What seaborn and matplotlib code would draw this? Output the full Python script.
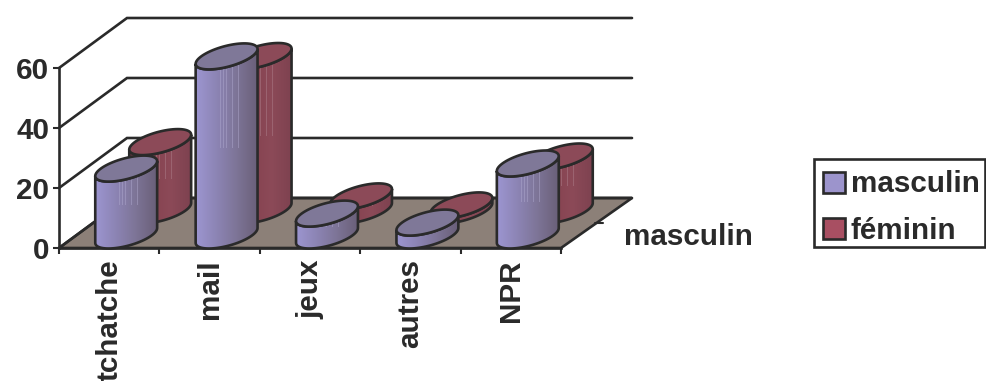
import numpy as np
import pandas as pd
import seaborn as sns
import matplotlib.pyplot as plt
from matplotlib.colors import LinearSegmentedColormap, to_rgba
from matplotlib.patches import Patch, PathPatch, Polygon, Rectangle
from matplotlib.path import Path

categories = ['tchatche', 'mail', 'jeux', 'autres', 'NPR']
masculin = [22.3, 59.7, 7.3, 4.3, 24]
feminin = [22.8, 51.5, 4.7, 1.7, 18]
series_names = ['masculin', 'féminin']
y_ticks = [0, 20, 40, 60]

sns.set_style('white')
plt.rcParams['font.family'] = ['Liberation Sans', 'DejaVu Sans']
plt.rcParams['font.weight'] = 'bold'
plt.rcParams['font.size'] = 21.3

INK = '#2a2a2a'
LW = 1.9
# how far the full depth of the floor shifts things, in category / value units
DX = 68 / 100.4
DY = 50 / 3
R_X = 0.253   # cylinder radius along the categories
R_D = 0.26    # cylinder radius along the depth
BACK_EXTRA = 0.03   # back edge runs a little past the floor corner

def project(cat, val, depth):
    return cat + depth * DX, val + depth * DY

def half_ellipse(cx, val, depth):
    # front half of the ring, left extreme to right extreme
    t0 = np.arctan2(R_D * DX, R_X)
    t = np.linspace(t0 + np.pi, t0 + 2 * np.pi, 40)
    return np.column_stack(project(cx + R_X * np.cos(t), val, depth + R_D * np.sin(t)))

def full_ellipse(cx, val, depth):
    t = np.linspace(0, 2 * np.pi, 80)
    return np.column_stack(project(cx + R_X * np.cos(t), val, depth + R_D * np.sin(t)))

df = pd.DataFrame({
    'categorie': categories * 2,
    'valeur': masculin + feminin,
    'serie': [series_names[0]] * 5 + [series_names[1]] * 5,
})

fig = plt.figure(figsize=(9.86, 3.81), dpi=100)
ax = fig.add_axes([59 / 986, 133 / 381, 573 / 986, 231 / 381])
ax.patch.set_alpha(0)

sns.barplot(data=df, x='categorie', y='valeur', hue='serie', dodge=False, width=0.617,
            palette=['#9A93CC', '#8C4A58'], legend=False, errorbar=None, ax=ax)

styles = {
    0: dict(depth=0.25, z=5, top='#7F7898', cols=['#9C95D0', '#8C84B4', '#7D7496', '#6A6079'], light='#B0AAD0'),
    1: dict(depth=0.75, z=3, top='#8C4A58', cols=['#7A3A4A', '#85424F', '#8C4A58', '#7E4250'], light='#B08490'),
}
streak_cols = [24, 27, 30, 36, 42]

# the flat bars only give position and height, the cylinders are drawn over them
for idx, cont in enumerate(ax.containers):
    st = styles[idx]
    cmap = LinearSegmentedColormap.from_list('c', st['cols'])
    light = np.array(to_rgba(st['light']))
    for bar in cont:
        cx = bar.get_x() + bar.get_width() / 2
        val = bar.get_height()
        d = st['depth']
        low = half_ellipse(cx, 0, d)
        high = half_ellipse(cx, val, d)
        outline = np.vstack([low, high[::-1], low[:1]])
        bar.set_visible(False)

        # shaded side of the cylinder, left to right
        x0, x1 = outline[:, 0].min(), outline[:, 0].max()
        y0, y1 = outline[:, 1].min(), outline[:, 1].max()
        shade = np.linspace(0, 1, 62)[None, :].repeat(2, axis=0)
        rgba = cmap(shade)
        for c in streak_cols:
            rgba[1, c] = 0.55 * rgba[1, c] + 0.45 * light
        im = ax.imshow(rgba, extent=(x0, x1, y0, y1), origin='lower', aspect='auto',
                       interpolation='nearest', zorder=st['z'])
        im.set_clip_path(PathPatch(Path(outline), transform=ax.transData))
        ax.add_patch(Polygon(outline, closed=True, fill=False, edgecolor=INK, lw=LW,
                             zorder=st['z'] + 0.1, clip_on=False))
        ax.add_patch(Polygon(full_ellipse(cx, val, d), closed=True, facecolor=st['top'],
                             edgecolor=INK, lw=LW, zorder=st['z'] + 0.2, clip_on=False))

# floor
back_right = project(4.5 + BACK_EXTRA, 0, 1)
floor = [project(-0.5, 0, 0), project(-0.5, 0, 1), back_right, project(4.5, 0, 0)]
ax.add_patch(Polygon(floor, closed=True, facecolor='#8C8078', edgecolor=INK, lw=LW,
                     zorder=1, clip_on=False))

# walls
for v in y_ticks:
    x_a, y_a = project(-0.5, v, 0)
    x_b, y_b = project(-0.5, v, 1)
    x_c, _ = project(4.5 + BACK_EXTRA, v, 1)
    ax.plot([x_a, x_b, x_c], [y_a, y_b, y_b], color=INK, lw=LW, zorder=2,
            solid_joinstyle='miter', clip_on=False)

# depth axis tick and label
x_t, y_t = project(4.5, 0, 0.5)
ax.annotate('', xy=(x_t, y_t), xytext=(8, 0), textcoords='offset pixels',
            arrowprops=dict(arrowstyle='-', color=INK, lw=1.5, shrinkA=0, shrinkB=0), zorder=2)
ax.annotate(series_names[0], xy=(x_t, y_t), xytext=(29, -14), textcoords='offset pixels',
            ha='left', va='center', color=INK, annotation_clip=False)

ax.set_xlim(-0.5, -0.5 + 573 / 100.4)
ax.set_ylim(0, 77)
ax.set_xlabel('')
ax.set_ylabel('')
ax.set_yticks(y_ticks)
ax.set_xticks(np.arange(-0.5, 5))
ax.set_xticklabels([])
ax.set_xticks(range(5), categories, minor=True, rotation=90)
ax.tick_params(axis='x', which='major', length=4, width=1.5, color=INK, bottom=True)
ax.tick_params(axis='x', which='minor', length=0, pad=8, labelcolor=INK, bottom=True)
ax.tick_params(axis='y', length=4, width=1.5, color=INK, left=True, pad=3, labelcolor=INK)
for lab in ax.get_xticklabels(minor=True):
    lab.set_va('top')

for side in ['top', 'right']:
    ax.spines[side].set_visible(False)
ax.spines['left'].set_bounds(0, 60)
ax.spines['bottom'].set_bounds(-0.5, 4.5)
for side in ['left', 'bottom']:
    ax.spines[side].set_color(INK)
    ax.spines[side].set_linewidth(LW)
    ax.spines[side].set_zorder(2.5)

# legend box is a fixed frame, entries sit inside it
fig.add_artist(Rectangle((814 / 986, 1 - 247 / 381), 171 / 986, 88 / 381, transform=fig.transFigure,
                         fill=False, edgecolor=INK, lw=LW))
handles = [Patch(facecolor='#9C94CC', edgecolor=INK, lw=LW, label=series_names[0]),
           Patch(facecolor='#A84F62', edgecolor=INK, lw=LW, label=series_names[1])]
fig.legend(handles=handles, loc='upper left', bbox_to_anchor=(814 / 986, 1 - 161 / 381),
           frameon=False, borderaxespad=0, handlelength=0.72, handleheight=0.72,
           handletextpad=0.2, borderpad=0.32, labelspacing=0.62, labelcolor=INK)

fig.savefig('out.png', dpi=100)
